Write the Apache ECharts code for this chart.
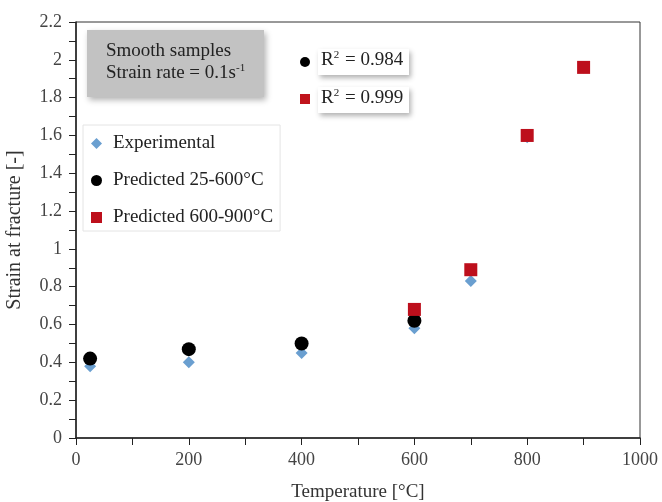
<!DOCTYPE html>
<html lang="en">
<head>
<meta charset="utf-8" />
<title>Strain at fracture</title>
<script src="https://cdn.jsdelivr.net/npm/echarts@6/dist/echarts.min.js"></script>
<style>
  html, body { margin: 0; padding: 0; background: #fff; }
  #chart { width: 662px; height: 502px; }
</style>
</head>
<body>
<div id="chart"></div>
<script>
// temperatures [°C] and strain at fracture [-]
var expTemp = [25, 200, 400, 600, 700, 800, 900];
var expStrain = [0.38, 0.40, 0.45, 0.58, 0.83, 1.59, 1.96];
var predLowTemp = [25, 200, 400, 600];
var predLowStrain = [0.42, 0.47, 0.50, 0.62];
var predHighTemp = [600, 700, 800, 900];
var predHighStrain = [0.68, 0.89, 1.60, 1.96];
var seriesNames = ['Experimental', 'Predicted 25-600°C', 'Predicted 600-900°C'];
var r2Values = ['0.984', '0.999'];

var font = 'Liberation Serif';

function pairs(xs, ys) {
  var out = [];
  for (var i = 0; i < xs.length; i++) out.push([xs[i], ys[i]]);
  return out;
}

var chart = echarts.init(document.getElementById('chart'));

var r2Rich = {
  t: { fontFamily: font, fontSize: 19, fill: '#222' },
  s: { fontFamily: font, fontSize: 11, fill: '#222', padding: [0, 1, 10, 0] }
};

chart.setOption({
  animation: false,
  backgroundColor: '#fff',
  textStyle: { fontFamily: font },
  grid: {
    left: 76, right: 22, top: 22, bottom: 64,
    outerBoundsMode: 'none', containLabel: false,
    show: true, borderColor: '#333', borderWidth: 1
  },
  legend: {
    orient: 'vertical',
    left: 83, top: 125,
    padding: [9, 7, 4, 8],
    itemGap: 18,
    itemWidth: 11, itemHeight: 11,
    backgroundColor: '#fff',
    borderColor: '#e4e4e4', borderWidth: 1,
    textStyle: { fontFamily: font, fontSize: 19, color: '#222', padding: [0, 0, 0, 6] },
    data: [
      { name: seriesNames[0], icon: 'diamond' },
      { name: seriesNames[1], icon: 'circle' },
      { name: seriesNames[2], icon: 'rect' }
    ]
  },
  xAxis: {
    type: 'value', min: 0, max: 1000, interval: 200,
    name: 'Temperature [°C]', nameLocation: 'middle', nameGap: 45,
    nameTextStyle: { fontFamily: font, fontSize: 19, color: '#333' },
    axisLine: { lineStyle: { color: '#222', width: 1.5 } },
    axisTick: { show: true, inside: false, length: 7, lineStyle: { color: '#222' } },
    minorTick: { show: true, splitNumber: 2, length: 7, lineStyle: { color: '#222' } },
    axisLabel: {
      fontFamily: font, fontSize: 18, color: '#444', margin: 13,
      formatter: function (v) { return String(v); }
    },
    splitLine: { show: false }
  },
  yAxis: {
    type: 'value', min: 0, max: 2.2, interval: 0.2,
    name: 'Strain at fracture [-]', nameLocation: 'middle', nameGap: 51,
    nameTextStyle: { fontFamily: font, fontSize: 20, color: '#333' },
    axisLine: { show: true, lineStyle: { color: '#222', width: 1.5 } },
    axisTick: { show: true, inside: false, length: 7, lineStyle: { color: '#222' } },
    minorTick: { show: true, splitNumber: 2, length: 7, lineStyle: { color: '#222' } },
    axisLabel: {
      fontFamily: font, fontSize: 18, color: '#444', margin: 14,
      formatter: function (v) { return String(Math.round(v * 10) / 10); }
    },
    splitLine: { show: false }
  },
  series: [
    {
      name: seriesNames[0], type: 'scatter', symbol: 'diamond', symbolSize: 12,
      itemStyle: { color: '#6a9fd0', opacity: 1 },
      data: pairs(expTemp, expStrain), z: 2
    },
    {
      name: seriesNames[1], type: 'scatter', symbol: 'circle', symbolSize: 14,
      itemStyle: { color: '#000', opacity: 1 },
      data: pairs(predLowTemp, predLowStrain), z: 3
    },
    {
      name: seriesNames[2], type: 'scatter', symbol: 'rect', symbolSize: 13,
      itemStyle: { color: '#bd0f1c', opacity: 1 },
      data: pairs(predHighTemp, predHighStrain), z: 4
    }
  ],
  graphic: [
    {
      type: 'rect', left: 87, top: 30, z: 10,
      shape: { width: 177, height: 67 },
      style: { fill: '#c2c2c2', shadowBlur: 6, shadowOffsetX: 2, shadowOffsetY: 3, shadowColor: 'rgba(0,0,0,0.3)' }
    },
    {
      type: 'text', left: 106, top: 40, z: 11,
      style: {
        text: 'Smooth samples\n{t|Strain rate = 0.1s}{s|-1}',
        fontFamily: font, fontSize: 19, fill: '#222', lineHeight: 22,
        rich: {
          t: { fontFamily: font, fontSize: 19, fill: '#222' },
          s: { fontFamily: font, fontSize: 11, fill: '#222', padding: [0, 0, 10, 0] }
        }
      }
    },
    {
      type: 'rect', left: 318, top: 49, z: 10,
      shape: { width: 91, height: 26 },
      style: { fill: '#fff', shadowBlur: 5, shadowOffsetX: 2, shadowOffsetY: 3, shadowColor: 'rgba(0,0,0,0.3)' }
    },
    {
      type: 'rect', left: 318, top: 87, z: 10,
      shape: { width: 91, height: 26 },
      style: { fill: '#fff', shadowBlur: 5, shadowOffsetX: 2, shadowOffsetY: 3, shadowColor: 'rgba(0,0,0,0.3)' }
    },
    {
      type: 'circle', z: 11, shape: { cx: 305, cy: 62, r: 5 }, style: { fill: '#000' }
    },
    {
      type: 'rect', z: 11, shape: { x: 300, y: 94, width: 10, height: 10 }, style: { fill: '#c0141c' }
    },
    {
      type: 'text', left: 321, top: 50, z: 11,
      style: { text: '{t|R}{s|2}{t| = ' + r2Values[0] + '}', rich: r2Rich }
    },
    {
      type: 'text', left: 321, top: 88, z: 11,
      style: { text: '{t|R}{s|2}{t| = ' + r2Values[1] + '}', rich: r2Rich }
    }
  ]
});

window.addEventListener('resize', function () { chart.resize(); });
</script>
</body>
</html>
